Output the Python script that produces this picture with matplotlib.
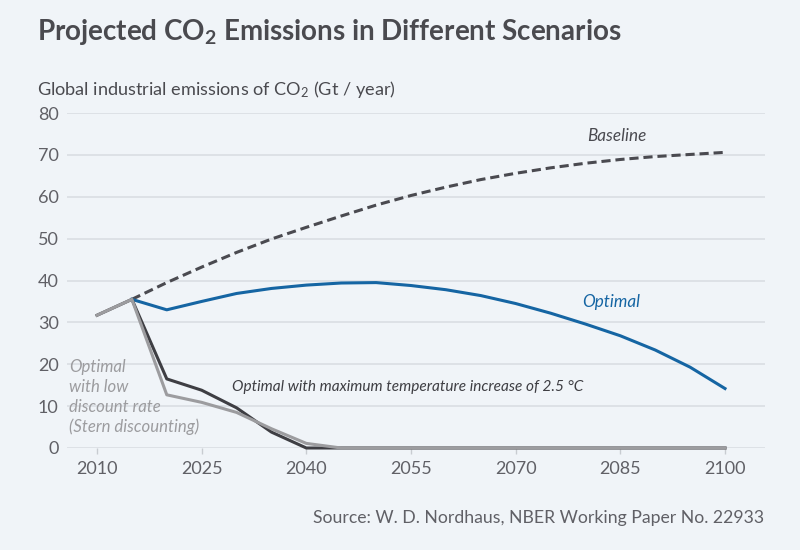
import matplotlib
matplotlib.use("Agg")
import matplotlib.pyplot as plt

# ----------------- Data -----------------

years = [2010, 2015, 2020, 2025, 2030, 2035, 2040, 2045, 2050, 2055,
         2060, 2065, 2070, 2075, 2080, 2085, 2090, 2095, 2100]

# Baseline and Optimal start in 2015
baseline = [35.5, 39.5, 43.2, 46.7, 49.9, 52.7, 55.4, 58.0, 60.3,
            62.3, 64.1, 65.6, 66.9, 68.0, 68.9, 69.6, 70.1, 70.6]
optimal = [35.5, 33.0, 35.0, 36.9, 38.1, 38.9, 39.4, 39.5, 38.8,
           37.8, 36.4, 34.5, 32.2, 29.6, 26.8, 23.4, 19.3, 14.2]

# These two start in 2010
temp_max = [31.7, 35.5, 16.5, 13.8, 9.6, 3.8, 0.0, 0.0, 0.0, 0.0,
            0.0, 0.0, 0.0, 0.0, 0.0, 0.0, 0.0, 0.0, 0.0]
stern = [31.7, 35.5, 12.7, 10.9, 8.5, 4.6, 1.1, 0.0, 0.0, 0.0,
         0.0, 0.0, 0.0, 0.0, 0.0, 0.0, 0.0, 0.0, 0.0]

x_ticks = [2010, 2025, 2040, 2055, 2070, 2085, 2100]
y_ticks = [0, 10, 20, 30, 40, 50, 60, 70, 80]

title = "Projected CO$_\\mathbf{2}$ Emissions in Different Scenarios"
ylabel = "Global industrial emissions of CO$_2$ (Gt / year)"
source = "Source: W. D. Nordhaus, NBER Working Paper No. 22933"
stern_lines = ["Optimal", "with low", "discount rate", "(Stern discounting)"]

# ----------------- Style -----------------

BG = "#f0f4f8"
GRID = "#dadee3"
TEXT = "#4a4a4f"
TICK = "#606066"
BLUE = "#1565a3"
DARK = "#3e3e43"
LIGHT = "#9c9c9f"
BASE = "#4a4a50"

plt.rcParams["font.family"] = ["Lato", "DejaVu Sans"]
plt.rcParams["mathtext.fontset"] = "custom"
plt.rcParams["mathtext.rm"] = "Lato"
plt.rcParams["mathtext.it"] = "Lato:italic"
plt.rcParams["mathtext.bf"] = "Lato:bold"

fig = plt.figure(figsize=(8, 5.5), dpi=100, facecolor=BG)
ax = fig.add_axes([67 / 800, 1 - 448 / 550, (765 - 67) / 800, (448 - 113) / 550])
ax.set_facecolor(BG)

ax.set_xlim(2010 - 30 / 6.978, 2100 + 40 / 6.978)
ax.set_ylim(0, 80)

for s in ax.spines.values():
    s.set_visible(False)

ax.set_yticks(y_ticks)
ax.set_xticks(x_ticks)
ax.grid(axis="y", color=GRID, linewidth=1.2)
ax.set_axisbelow(True)
ax.tick_params(axis="y", length=0, pad=6, labelsize=13, labelcolor=TICK)
ax.tick_params(axis="x", length=4, width=1, color="#c8ccd1", pad=5,
               labelsize=13, labelcolor=TICK)

lw = 2.2
ax.plot(years[1:], baseline, color=BASE, linewidth=lw, dashes=(3, 1.6),
        clip_on=False)
ax.plot(years[1:], optimal, color=BLUE, linewidth=lw, clip_on=False)
ax.plot(years, temp_max, color=DARK, linewidth=lw, clip_on=False,
        solid_joinstyle="round")
ax.plot(years, stern, color=LIGHT, linewidth=lw, clip_on=False,
        solid_joinstyle="round")

# Series labels
ax.text(2084.5, 74.5, "Baseline", style="italic", color=BASE, fontsize=12.3,
        ha="center", va="center")
ax.text(2083.7, 34.9, "Optimal", style="italic", color=BLUE, fontsize=12.3,
        ha="center", va="center")
ax.text(2029.4, 14.6, "Optimal with maximum temperature increase of 2.5 °C",
        style="italic", color=DARK, fontsize=11.1, ha="left", va="center")
for i, line in enumerate(stern_lines):
    ax.text(2006.0, 19.3 - i * 4.77, line, style="italic", color=LIGHT,
            fontsize=12.1, ha="left", va="center")

# Title, axis label, source
fig.text(37 / 800, 1 - 32 / 550, title, fontsize=20, fontweight="bold",
         color=TEXT, ha="left", va="center")
fig.text(37 / 800, 1 - 90 / 550, ylabel, fontsize=13.1, color=TEXT,
         ha="left", va="center")
fig.text(764 / 800, 1 - 518 / 550, source, fontsize=12.7, color=TICK,
         ha="right", va="center")

fig.savefig("out.png", dpi=100, facecolor=BG)
